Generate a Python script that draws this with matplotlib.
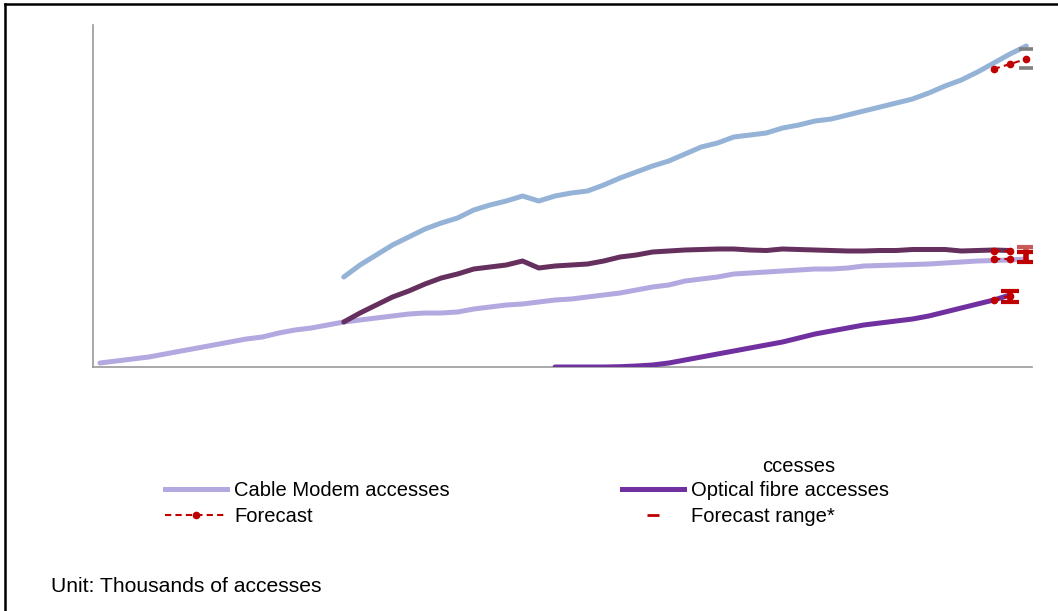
import matplotlib
matplotlib.use("Agg")
import matplotlib.pyplot as plt
from matplotlib.lines import Line2D
import numpy as np

plt.rcParams['font.family'] = ['Liberation Sans', 'DejaVu Sans']

# quarter index (0 = first quarter shown)
quarters = np.arange(58)

cable = [4, 6, 8, 10, 13, 16, 19, 22, 25, 28, 30, 34, 37, 39, 42, 45, 47, 49, 51, 53,
         54, 54, 55, 58, 60, 62, 63, 65, 67, 68, 70, 72, 74, 77, 80, 82, 86, 88, 90, 93,
         94, 95, 96, 97, 98, 98, 99, 101, 101.5, 102, 102.5, 103, 104, 105, 106, 106.5, 107, 108]
dark_start = 15
dark = [45, 54, 62, 70, 76, 83, 89, 93, 98, 100, 102, 106, 99, 101, 102, 103, 106, 110, 112, 115,
        116, 117, 117.5, 118, 118, 117, 116.5, 118, 117.5, 117, 116.5, 116, 116, 116.5, 116.5,
        117.5, 117.5, 117.5, 116, 116.5, 117, 116.5]
blue_start = 15
blue = [90, 102, 112, 122, 130, 138, 144, 149, 157, 162, 166, 171, 166, 171, 174, 176, 182, 189,
        195, 201, 206, 213, 220, 224, 230, 232, 234, 239, 242, 246, 248, 252, 256, 260, 264, 268,
        274, 281, 287, 295, 304, 313, 321]
fibre_start = 28
fibre = [0, 0, 0, 0, 0.3, 1, 2, 4, 7, 10, 13, 16, 19, 22, 25, 29, 33, 36, 39, 42, 44, 46, 48,
         51, 55, 59, 63, 67, 72]

# forecasts
fc_blue_x = [55, 56, 57]
fc_blue_y = [298, 303, 308]
fc_dark_x = [55, 56]
fc_dark_y = [116.5, 116.5]
fc_cable_x = [55, 56]
fc_cable_y = [108, 108]
fc_fibre_x = [55, 56]
fc_fibre_y = [67, 71]

# forecast ranges (x, low, high)
rng_blue = (57, 299, 318)
rng_dark = (57, 115, 120)
rng_cable = (57, 105, 115)
rng_fibre = (56, 65, 76)

c_blue = '#95b3d7'
c_cable = '#b3a8e0'
c_dark = '#66305e'
c_fibre = '#7030a0'
c_red = '#c00000'

W, H = 1058, 611
fig = plt.figure(figsize=(W / 100, H / 100), dpi=100)
ax = fig.add_axes([93 / W, 1 - 367 / H, (1032 - 93) / W, (367 - 25) / H])

lw = 3.6
ax.plot(quarters, cable, color=c_cable, lw=lw, solid_capstyle='round', zorder=3)
ax.plot(quarters[dark_start:dark_start + len(dark)], dark, color=c_dark, lw=lw,
        solid_capstyle='round', zorder=3)
ax.plot(quarters[blue_start:blue_start + len(blue)], blue, color=c_blue, lw=lw,
        solid_capstyle='round', zorder=3)
ax.plot(quarters[fibre_start:fibre_start + len(fibre)], fibre, color=c_fibre, lw=lw,
        solid_capstyle='round', zorder=3)

for fx, fy in [(fc_blue_x, fc_blue_y), (fc_dark_x, fc_dark_y),
               (fc_cable_x, fc_cable_y), (fc_fibre_x, fc_fibre_y)]:
    ax.plot(fx, fy, color=c_red, lw=1.5, ls=(0, (3, 2)), marker='o', ms=4.5, zorder=4)

# gray range markers for blue
ax.plot([rng_blue[0]] * 2, [rng_blue[1], rng_blue[2]], ls='none', marker='_',
        ms=10, mew=2.6, color='#808080', zorder=5)

for (rx, lo, hi), col in [(rng_dark, '#c85a5a'), (rng_cable, c_red), (rng_fibre, c_red)]:
    ax.errorbar([rx], [(lo + hi) / 2], yerr=[[(hi - lo) / 2], [(hi - lo) / 2]], fmt='none',
                ecolor=col, elinewidth=4, capsize=6.5, capthick=3, zorder=5)

ax.set_xlim(-0.43, 57.35)
ax.set_ylim(0, 342)
ax.set_xticks([])
ax.set_yticks([])
for s in ['top', 'right']:
    ax.spines[s].set_visible(False)
for s in ['left', 'bottom']:
    ax.spines[s].set_color('#999999')
    ax.spines[s].set_linewidth(1.2)

fs = 14.5
h_cable = Line2D([], [], color=c_cable, lw=lw)
h_fc = Line2D([], [], color=c_red, lw=1.5, ls=(0, (3, 2)), marker='o', ms=4.5)
h_fibre = Line2D([], [], color=c_fibre, lw=lw)
h_rng = Line2D([], [], color=c_red, ls='none', marker='_', ms=9, mew=2)

leg_kw = dict(loc='upper left', frameon=False, fontsize=fs, handlelength=3.1,
              handletextpad=0.35, borderpad=0, borderaxespad=0, labelspacing=0.36)
fig.legend([h_cable, h_fc], ['Cable Modem accesses', 'Forecast'],
           bbox_to_anchor=(165 / W, 1 - 481 / H), **leg_kw)
fig.legend([h_fibre, h_rng], ['Optical fibre accesses', 'Forecast range*'],
           bbox_to_anchor=(622 / W, 1 - 481 / H), **leg_kw)
fig.text(762 / W, 1 - 466 / H, 'ccesses', fontsize=fs, va='center', ha='left')
fig.text(51 / W, 1 - 587 / H, 'Unit: Thousands of accesses', fontsize=15.2, va='center', ha='left')

# figure frame (top & left)
fig.add_artist(Line2D([5 / W, 1], [1 - 4 / H, 1 - 4 / H], color='black', lw=1.8,
                      transform=fig.transFigure))
fig.add_artist(Line2D([5 / W, 5 / W], [0, 1 - 4 / H], color='black', lw=1.8,
                      transform=fig.transFigure))

fig.savefig('out.png', dpi=100)
